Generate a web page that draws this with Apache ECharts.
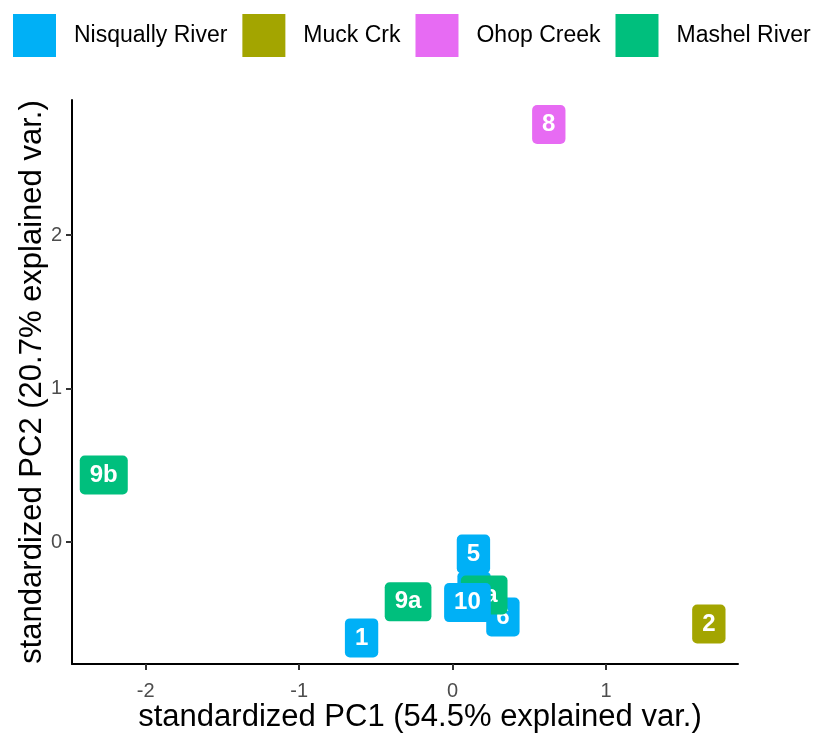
<!DOCTYPE html>
<html>
<head>
<meta charset="utf-8">
<script src="https://cdn.jsdelivr.net/npm/echarts@6/dist/echarts.min.js"></script>
<style>
html,body{margin:0;padding:0;background:#fff;}
#chart{width:817px;height:733px;}
</style>
</head>
<body>
<div id="chart"></div>
<script>
// Groups (legend order) and colours
const groups = ['Nisqually River', 'Muck Crk', 'Ohop Creek', 'Mashel River'];
const groupColors = ['#00B0F6', '#A3A500', '#E76BF3', '#00BF7D'];

// Sites in drawing order (later rows are drawn on top)
const siteNames = ['1', '3', '5', '6', '2', '8', '7a', '9a', '9b', '10'];
const siteGroups = ['Nisqually River', 'Nisqually River', 'Nisqually River', 'Nisqually River',
                    'Muck Crk', 'Ohop Creek', 'Mashel River', 'Mashel River', 'Mashel River',
                    'Nisqually River'];
const pc1 = [-0.593, 0.14, 0.136, 0.328, 1.67, 0.627, 0.206, -0.29, -2.273, 0.097];
const pc2 = [-0.625, -0.32, -0.078, -0.489, -0.534, 2.72, -0.345, -0.39, 0.436, -0.395];

const xTicks = [-2, -1, 0, 1];
const yTicks = [0, 1, 2];

const FONT = '"Liberation Sans", Arial, sans-serif';

// Build consecutive runs of same group so drawing order is preserved
const series = [];
let cur = null;
siteNames.forEach((n, i) => {
  const g = siteGroups[i];
  if (!cur || cur.name !== g) {
    const ci = groups.indexOf(g);
    cur = {
      type: 'scatter',
      name: g,
      z: 2 + series.length,
      symbol: 'rect',
      symbolSize: 1,
      itemStyle: { color: 'rgba(0,0,0,0)', opacity: 1 },
      label: {
        show: true,
        position: 'inside',
        formatter: p => p.name,
        color: '#fff',
        fontWeight: 'bold',
        fontSize: 24,
        lineHeight: 25,
        fontFamily: FONT,
        backgroundColor: groupColors[ci],
        borderRadius: 5,
        padding: [7, 10, 7, 10]
      },
      labelLayout: { hideOverlap: false },
      emphasis: { disabled: true },
      data: []
    };
    series.push(cur);
  }
  cur.data.push({ name: n, value: [pc1[i], pc2[i]] });
});

const chart = echarts.init(document.getElementById('chart'));
chart.setOption({
  animation: false,
  legend: {
    data: groups.map((g, i) => ({ name: g, itemStyle: { color: groupColors[i], opacity: 1 } })),
    top: 9,
    left: 8,
    icon: 'rect',
    itemWidth: 43,
    itemHeight: 43,
    itemGap: 15,
    selectedMode: false,
    textStyle: { fontSize: 23, color: '#000', fontFamily: FONT, padding: [0, 0, 0, 13] }
  },
  grid: { left: 72, right: 79, top: 100, bottom: 69, outerBoundsMode: 'none', containLabel: false },
  xAxis: {
    type: 'value',
    min: -2.48,
    max: 1.86,
    name: 'standardized PC1 (54.5% explained var.)',
    nameLocation: 'middle',
    nameGap: 38,
    nameMoveOverlap: false,
    nameTextStyle: { fontSize: 31, color: '#000', fontFamily: FONT, padding: [0, 0, 0, 30] },
    splitLine: { show: false },
    axisLine: { show: true, onZero: false, lineStyle: { color: '#000', width: 2 } },
    axisTick: { show: true, length: 6, customValues: xTicks, lineStyle: { color: '#333', width: 2 } },
    axisLabel: { customValues: xTicks, fontSize: 20, color: '#4D4D4D', fontFamily: FONT, margin: 17 }
  },
  yAxis: {
    type: 'value',
    min: -0.795,
    max: 2.88,
    name: 'standardized PC2 (20.7% explained var.)',
    nameLocation: 'middle',
    nameGap: 24,
    nameMoveOverlap: false,
    nameTextStyle: { fontSize: 31, color: '#000', fontFamily: FONT },
    splitLine: { show: false },
    axisLine: { show: true, onZero: false, lineStyle: { color: '#000', width: 2 } },
    axisTick: { show: true, length: 6, customValues: yTicks, lineStyle: { color: '#333', width: 2 } },
    axisLabel: { customValues: yTicks, fontSize: 20, color: '#4D4D4D', fontFamily: FONT, margin: 10 }
  },
  series: series
});
</script>
</body>
</html>
